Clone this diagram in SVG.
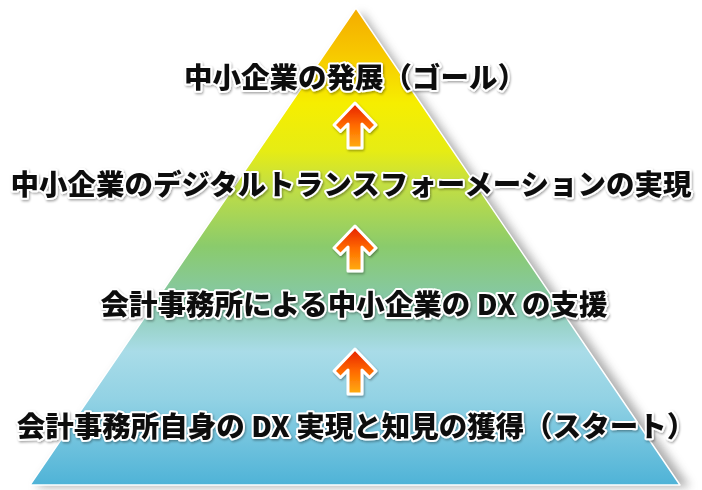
<svg xmlns="http://www.w3.org/2000/svg" width="702" height="490" viewBox="0 0 702 490">
  <defs>
    <linearGradient id="pyr" x1="0" y1="0" x2="0" y2="1">
      <stop offset="0" stop-color="#f4ac00"/>
      <stop offset="0.09" stop-color="#f7c600"/>
      <stop offset="0.2" stop-color="#f6ee00"/>
      <stop offset="0.3" stop-color="#e6ec14"/>
      <stop offset="0.37" stop-color="#c4df42"/>
      <stop offset="0.5" stop-color="#8acb6c"/>
      <stop offset="0.6" stop-color="#86c8a2"/>
      <stop offset="0.72" stop-color="#a9dce8"/>
      <stop offset="0.82" stop-color="#92d2e4"/>
      <stop offset="1" stop-color="#4fb3d7"/>
    </linearGradient>
    <linearGradient id="arr" x1="0" y1="0" x2="0" y2="1">
      <stop offset="0" stop-color="#e61e00"/>
      <stop offset="0.5" stop-color="#ff6a00"/>
      <stop offset="1" stop-color="#ffae10"/>
    </linearGradient>
    <filter id="blur" x="-10%" y="-10%" width="130%" height="130%">
      <feGaussianBlur stdDeviation="5"/>
    </filter>
    <filter id="tshadow" x="-5%" y="-20%" width="110%" height="150%">
      <feDropShadow dx="1" dy="1.5" stdDeviation="1" flood-color="#000" flood-opacity="0.35"/>
    </filter>
    <path id="arrowShape" d="M0,0 L21,22 L14.5,28.5 L7,21 L7,45 L-7,45 L-7,21 L-14.5,28.5 L-21,22 Z"/>
  </defs>
  <style>
    .lbl { font-family: "Noto Sans CJK JP", "Noto Sans CJK SC", "Noto Sans", sans-serif; font-weight: 900; font-size: 28.5px; fill: #111; stroke: #fff; stroke-width: 4; stroke-linejoin: round; paint-order: stroke; text-anchor: middle; }
    .arrow { fill: url(#arr); stroke: #fff; stroke-width: 3; stroke-linejoin: round; }
  </style>
  <rect width="702" height="490" fill="#fff"/>
  <g id="pyramid">
    <polygon points="362,12 36,487 690,487" fill="#6d6d6d" opacity="0.55" filter="url(#blur)"/>
    <polygon points="356,8 30,485 680,485" fill="url(#pyr)" stroke="#fff" stroke-width="1.5" stroke-linejoin="round"/>
  </g>
  <g id="connectors" filter="url(#tshadow)">
    <use href="#arrowShape" class="arrow" x="355" y="103"/>
    <use href="#arrowShape" class="arrow" x="355" y="226"/>
    <use href="#arrowShape" class="arrow" x="355" y="349"/>
  </g>
  <g id="node-goal" filter="url(#tshadow)">
    <text class="lbl" x="355" y="88">中小企業の発展（ゴール）</text>
  </g>
  <g id="node-dx-sme" filter="url(#tshadow)">
    <text class="lbl" x="351" y="195">中小企業のデジタルトランスフォーメーションの実現</text>
  </g>
  <g id="node-support" filter="url(#tshadow)">
    <text class="lbl" x="354" y="315">会計事務所による中小企業の DX の支援</text>
  </g>
  <g id="node-start" filter="url(#tshadow)">
    <text class="lbl" x="356" y="437">会計事務所自身の DX 実現と知見の獲得（スタート）</text>
  </g>
</svg>
